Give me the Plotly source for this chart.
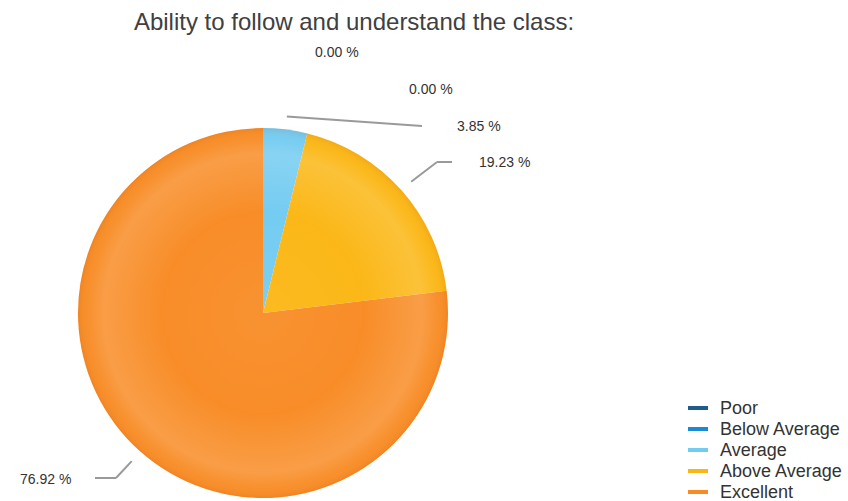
import math
import base64
import plotly.graph_objects as go

# Survey answers: "Ability to follow and understand the class"
categories = ["Poor", "Below Average", "Average", "Above Average", "Excellent"]
counts = [0, 0, 1, 5, 20]
colors = ["#1f5c8c", "#1a8ad4", "#72cbf1", "#fbb613", "#f88b24"]

W, H = 848, 501
FONT = "Liberation Sans, Arial, sans-serif"

# pie placement in pixels (centre + radius)
CX, CY, R = 263, 313, 185

total = sum(counts)
pcts = [100.0 * c / total for c in counts]

dom_x = [(CX - R) / W, (CX + R) / W]
dom_y = [1 - (CY + R) / H, 1 - (CY - R) / H]

fig = go.Figure()
fig.add_trace(go.Pie(
    labels=categories,
    values=counts,
    sort=False,
    direction="clockwise",
    rotation=0,
    marker=dict(colors=colors, line=dict(width=0)),
    textinfo="none",
    hoverinfo="label+percent",
    showlegend=False,
    domain=dict(x=dom_x, y=dom_y),
))

# soft ring-shaped shading laid over the disc (SVG radial gradient)
shade_svg = (
    '<svg xmlns="http://www.w3.org/2000/svg" width="200" height="200" viewBox="0 0 200 200">'
    '<defs><radialGradient id="g" cx="50%" cy="50%" r="50%">'
    '<stop offset="0%" stop-color="#ffffff" stop-opacity="0.06"/>'
    '<stop offset="55%" stop-color="#ffffff" stop-opacity="0.02"/>'
    '<stop offset="86%" stop-color="#ffffff" stop-opacity="0.16"/>'
    '<stop offset="95%" stop-color="#ffffff" stop-opacity="0.04"/>'
    '<stop offset="100%" stop-color="#b04000" stop-opacity="0.10"/>'
    '</radialGradient></defs>'
    '<circle cx="100" cy="100" r="100" fill="url(#g)"/></svg>'
)
shade_uri = "data:image/svg+xml;base64," + base64.b64encode(shade_svg.encode()).decode()

def px(x, y):
    return x / W, 1 - y / H

# label placement (pixels): text anchor, leader elbow/end points
label_style = [
    dict(pos=(337, 52), anchor="center", path=None),
    dict(pos=(431, 89), anchor="center", path=None),
    dict(pos=(455, 126), anchor="left", path=[(422, 126)]),
    dict(pos=(477, 162), anchor="left", path=[(437, 162), (452, 162)]),
    dict(pos=(73, 479), anchor="right", path=[(116, 478), (95, 478)]),
]

shapes = []
annotations = []
cum = 0.0
for p, st in zip(pcts, label_style):
    mid = (cum + p / 2) / 100 * 2 * math.pi
    cum += p
    x, y = px(*st["pos"])
    annotations.append(dict(
        x=x, y=y, xref="paper", yref="paper", text=f"{p:.2f} %",
        showarrow=False, xanchor=st["anchor"], yanchor="middle",
        font=dict(family=FONT, size=14, color="#333333"),
    ))
    if st["path"]:
        sx = CX + 1.07 * R * math.sin(mid)
        sy = CY - 1.07 * R * math.cos(mid)
        pts = [(sx, sy)] + st["path"]
        for (x0, y0), (x1, y1) in zip(pts[:-1], pts[1:]):
            a0, b0 = px(x0, y0)
            a1, b1 = px(x1, y1)
            shapes.append(dict(type="line", xref="paper", yref="paper",
                               x0=a0, y0=b0, x1=a1, y1=b1,
                               line=dict(color="#9a9a9a", width=2)))

# legend: short line swatch + category name per row
LEG_X, LEG_Y0, LEG_DY = 688, 408, 21
for i, (name, col) in enumerate(zip(categories, colors)):
    yy = LEG_Y0 + i * LEG_DY
    a0, b = px(LEG_X, yy)
    a1, _ = px(LEG_X + 20, yy)
    shapes.append(dict(type="line", xref="paper", yref="paper",
                       x0=a0, y0=b, x1=a1, y1=b,
                       line=dict(color=col, width=4)))
    tx, ty = px(LEG_X + 30, yy)
    annotations.append(dict(
        x=tx, y=ty, xref="paper", yref="paper", text=name,
        showarrow=False, xanchor="left", yanchor="middle",
        font=dict(family=FONT, size=18, color="#333333"),
    ))

fig.update_layout(
    width=W, height=H,
    margin=dict(l=0, r=0, t=0, b=0),
    paper_bgcolor="white", plot_bgcolor="rgba(0,0,0,0)",
    title=dict(text="Ability to follow and understand the class:",
               x=354 / W, y=1 - 22 / H, xanchor="center", yanchor="middle",
               font=dict(family=FONT, size=24, color="#404040")),
    showlegend=False,
    shapes=shapes,
    annotations=annotations,
    images=[dict(source=shade_uri, xref="paper", yref="paper",
                 x=dom_x[0], y=dom_y[1], sizex=dom_x[1] - dom_x[0],
                 sizey=dom_y[1] - dom_y[0], xanchor="left", yanchor="top",
                 sizing="stretch", layer="above")],
)

fig.write_html("out.html")
